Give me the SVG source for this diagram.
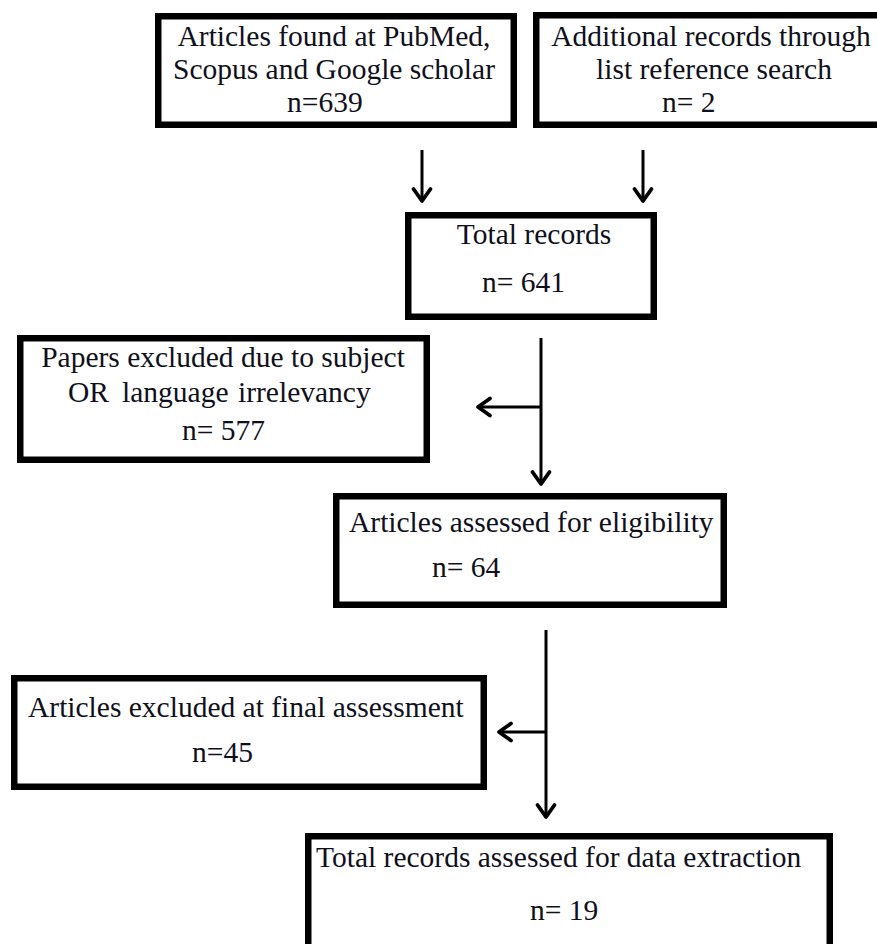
<svg xmlns="http://www.w3.org/2000/svg" width="877" height="944" viewBox="0 0 877 944">
<defs>
<style>
.box{fill:#fff;stroke:#000;stroke-width:6.5}
.t{font-family:"Liberation Serif","Times New Roman",serif;font-size:29.5px;fill:#10101c}
.m{text-anchor:middle}
.c{fill:none;stroke:#000;stroke-width:3}
</style>
<marker id="ah" markerUnits="userSpaceOnUse" markerWidth="30" markerHeight="30" viewBox="-15 -15 30 30" refX="0" refY="0" orient="auto" overflow="visible">
<path d="M-12,-8.5 L0,0 L-12,8.5" fill="none" stroke="#000" stroke-width="3.8" stroke-linecap="round" stroke-linejoin="round"/>
</marker>
</defs>
<rect width="877" height="944" fill="#fff"/>

<g id="connectors">
<line class="c" x1="422" y1="150" x2="422" y2="201" marker-end="url(#ah)"/>
<line class="c" x1="643" y1="150" x2="643" y2="201" marker-end="url(#ah)"/>
<line class="c" x1="541" y1="338" x2="541" y2="484" marker-end="url(#ah)"/>
<line class="c" x1="541" y1="407" x2="478" y2="407" marker-end="url(#ah)"/>
<line class="c" x1="546" y1="630" x2="546" y2="817" marker-end="url(#ah)"/>
<line class="c" x1="546" y1="732" x2="499" y2="732" marker-end="url(#ah)"/>
</g>

<g id="n1">
<rect class="box" x="158.25" y="16.25" width="355.5" height="108.5"/>
<text class="t m" x="334" y="46">Articles found at PubMed,</text>
<text class="t m" x="334" y="79">Scopus and Google scholar</text>
<text class="t" x="287" y="112">n=639</text>
</g>

<g id="n2">
<rect class="box" x="536.25" y="15.25" width="350" height="109.5"/>
<text class="t m" x="711" y="46">Additional records through</text>
<text class="t m" x="714" y="79">list reference search</text>
<text class="t" x="662" y="112">n= 2</text>
</g>

<g id="n3">
<rect class="box" x="408.25" y="215.25" width="245.5" height="101.5"/>
<text class="t m" x="534" y="244">Total records</text>
<text class="t" x="482" y="292">n= 641</text>
</g>

<g id="n4">
<rect class="box" x="20.25" y="338.25" width="406.5" height="121.5"/>
<text class="t m" x="223" y="367">Papers excluded due to subject</text>
<text class="t" y="402"><tspan x="68">OR</tspan><tspan x="122">language</tspan><tspan x="238">irrelevancy</tspan></text>
<text class="t" x="182" y="440">n= 577</text>
</g>

<g id="n5">
<rect class="box" x="336.25" y="496.25" width="387.5" height="108.5"/>
<text class="t" x="349" y="532">Articles assessed for eligibility</text>
<text class="t" x="432" y="577">n= 64</text>
</g>

<g id="n6">
<rect class="box" x="14.25" y="678.25" width="469.5" height="108.5"/>
<text class="t" x="28" y="717">Articles excluded at final assessment</text>
<text class="t" x="192" y="762">n=45</text>
</g>

<g id="n7">
<rect class="box" x="308.25" y="836.25" width="521.5" height="130"/>
<text class="t" x="316" y="867">Total records assessed for data extraction</text>
<text class="t" x="530" y="920">n= 19</text>
</g>
</svg>
